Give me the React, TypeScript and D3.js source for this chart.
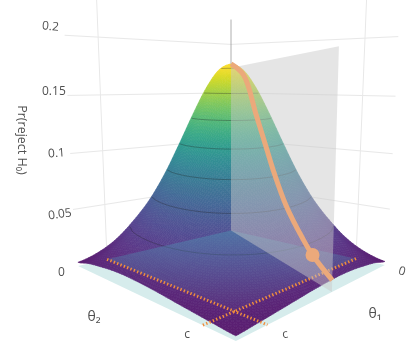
import React from 'react';
import * as d3 from 'd3';

// Pr(reject H0), rows/cols are theta at 0, .1, ... 1 of the axis range
const zRows = [
  [0.180, 0.1735, 0.155, 0.129, 0.100, 0.0718, 0.048, 0.0298, 0.0150, 0.0055, 0.0005],
  [0.1735, 0.173, 0.160, 0.138, 0.110, 0.0817, 0.0563, 0.0361, 0.0215, 0.0110, 0.0040],
  [0.155, 0.160, 0.153, 0.136, 0.112, 0.0862, 0.0615, 0.0408, 0.0251, 0.0135, 0.0060],
  [0.129, 0.138, 0.136, 0.125, 0.107, 0.0846, 0.0624, 0.0427, 0.0272, 0.0155, 0.0075],
  [0.100, 0.110, 0.112, 0.107, 0.0942, 0.0773, 0.0588, 0.0417, 0.0274, 0.0160, 0.0080],
  [0.0718, 0.0817, 0.0862, 0.0846, 0.0773, 0.0655, 0.0516, 0.0377, 0.0256, 0.0155, 0.0075],
  [0.048, 0.0563, 0.0615, 0.0624, 0.0588, 0.0516, 0.0419, 0.0318, 0.0223, 0.0140, 0.0065],
  [0.0298, 0.0361, 0.0408, 0.0427, 0.0417, 0.0377, 0.0318, 0.0248, 0.0180, 0.0115, 0.0050],
  [0.0150, 0.0215, 0.0251, 0.0272, 0.0274, 0.0256, 0.0223, 0.0180, 0.0130, 0.0080, 0.0035],
  [0.0055, 0.0110, 0.0135, 0.0155, 0.0160, 0.0155, 0.0140, 0.0115, 0.0080, 0.0050, 0.0020],
  [0.0005, 0.0040, 0.0060, 0.0075, 0.0080, 0.0075, 0.0065, 0.0050, 0.0035, 0.0020, 0.0006],
];

// slice along the plane: position along the ray and height
const sliceT = [0, 0.18, 0.338, 0.455, 0.539, 0.654, 0.795, 0.869, 1];
const sliceZ = [0.18, 0.168, 0.13, 0.10, 0.078, 0.052, 0.029, 0.019, 0.007];
const sliceSlope = 0.467; // theta1 / theta2 along the plane
const markerT = 0.869;
const markerZ = 0.019;

const zTicks = [0.05, 0.1, 0.15, 0.2];
const contourLevels = [0.025, 0.05, 0.075, 0.1, 0.125, 0.15, 0.175];
const cValue = 0.855;

const width = 415;
const height = 346;

// camera: plane homography of the floor, then a height term
const project = (a: number, b: number, z: number): [number, number] => {
  const w = 1 - 0.2737 * a - 0.2633 * b;
  const x0 = (231 - 174.4 * a + 52.6 * b) / w;
  const y0 = (228 - 37.1 * a - 35 * b) / w;
  const s = Math.pow(1 / w, 0.67);
  return [x0 + (x0 - 231) * z * 0.36, y0 - 850 * z * (1 + 0.4 * z) * s];
};

const path = (pts: [number, number][], close = false) =>
  d3.line()(pts) + (close ? 'Z' : '');

// catmull-rom resample of the typed grid so the mesh looks smooth
const cr = (p0: number, p1: number, p2: number, p3: number, t: number) =>
  0.5 * (2 * p1 + (p2 - p0) * t + (2 * p0 - 5 * p1 + 4 * p2 - p3) * t * t + (3 * p1 - p0 - 3 * p2 + p3) * t * t * t);
const nGrid = zRows.length - 1;
const at = (i: number, j: number) =>
  zRows[Math.max(0, Math.min(nGrid, i))][Math.max(0, Math.min(nGrid, j))];
const zAt = (a: number, b: number) => {
  const u = Math.min(a * nGrid, nGrid - 1e-6);
  const v = Math.min(b * nGrid, nGrid - 1e-6);
  const i = Math.floor(u);
  const j = Math.floor(v);
  const col = [-1, 0, 1, 2].map(d =>
    cr(at(i + d, j - 1), at(i + d, j), at(i + d, j + 1), at(i + d, j + 2), v - j));
  return cr(col[0], col[1], col[2], col[3], u - i);
};

const meshN = 80;
const meshStep = d3.range(meshN + 1).map(i => i / meshN);
const colorT = d3.scaleLinear().domain([-0.002, 0.175]).range([0, 1]).clamp(true);
// the surface is lit, so low values wash out towards a pale purple
const shade = (z: number) => {
  const t = colorT(z);
  return d3.interpolateRgb(d3.interpolateViridis(t), '#a070c0')(0.22 - 0.14 * t);
};

const cells: { d: string; fill: string }[] = [];
// back to front
for (const sum of d3.range(0, 2 * meshN - 1)) {
  for (let i = Math.max(0, sum - meshN + 1); i <= Math.min(sum, meshN - 1); i++) {
    const j = sum - i;
    const a0 = meshStep[i], a1 = meshStep[i + 1], b0 = meshStep[j], b1 = meshStep[j + 1];
    const pts = [
      project(a0, b0, zAt(a0, b0)),
      project(a1, b0, zAt(a1, b0)),
      project(a1, b1, zAt(a1, b1)),
      project(a0, b1, zAt(a0, b1)),
    ];
    cells.push({ d: path(pts, true), fill: shade(zAt((a0 + a1) / 2, (b0 + b1) / 2)) });
  }
}

// contour lines: break them where they run along the border of the domain
const cN = 160;
const cValues = new Array((cN + 1) * (cN + 1));
for (let j = 0; j <= cN; j++) for (let i = 0; i <= cN; i++) cValues[j * (cN + 1) + i] = zAt(i / cN, j / cN);
const contourGen = d3.contours().size([cN + 1, cN + 1]).smooth(true);
const contourPaths = contourLevels.map(level => {
  const geo = contourGen.contour(cValues, level);
  let d = '';
  geo.coordinates.forEach(poly => poly.forEach(ring => {
    let run: [number, number][] = [];
    const flush = () => { if (run.length > 1) d += path(run); run = []; };
    ring.forEach(([x, y]) => {
      if (x <= 0.6 || y <= 0.6 || x >= cN + 0.4 || y >= cN + 0.4) { flush(); return; }
      const a = (x - 0.5) / cN;
      const b = (y - 0.5) / cN;
      run.push(project(a, b, level));
    });
    flush();
  }));
  return d;
});

const wallLine = (z: number) => path([project(1.01, 0, z), project(0, 0, z), project(0, 1.01, z)]);
const vertLine = (a: number, b: number) => path([project(a, b, -0.002), project(a, b, 0.245)]);

const floorZ = -0.003;
const planeEnd = 1;
const planeTopBack = 0.176;
const planeTopFront = 0.19;

const tickStyle = { fontFamily: '"Open Sans", sans-serif', fontSize: 12, fill: '#505050' };

export default function App() {
  const slice = sliceT.map((t, i) => project(sliceSlope * t, t, sliceZ[i]));
  const sliceCurve = d3.line().curve(d3.curveCatmullRom)(slice) as string;
  const marker = project(sliceSlope * markerT, markerT, markerZ);
  const kiteBack = project(0, 0, floorZ);
  const kiteFront = project(cValue, cValue, floorZ);
  return (
    <svg width={width} height={height} style={{ position: 'absolute', left: 0, top: 0, background: '#fff', filter: 'blur(0.3px)' }}>
      <defs>
        <linearGradient id="kite" gradientUnits="userSpaceOnUse" x1={kiteBack[0]} y1={kiteBack[1]} x2={kiteFront[0]} y2={kiteFront[1]}>
          <stop offset="0" stopColor="#4f9cb8" stopOpacity={0.42} />
          <stop offset="1" stopColor="#4f9cb8" stopOpacity={0.06} />
        </linearGradient>
      </defs>
      {/* wall grid */}
      <g fill="none" stroke="#e8e8e8" strokeWidth={1}>
        {zTicks.map(z => <path key={z} d={wallLine(z)} />)}
        <path d={vertLine(cValue, 0)} />
        <path d={vertLine(0, cValue)} />
      </g>
      {/* floor */}
      <path d={path([project(0, 0, floorZ), project(1, 0, floorZ), project(1, 1, floorZ), project(0, 1, floorZ)], true)} fill="#d6ecec" />
      {/* surface */}
      <g>
        {cells.map((c, i) => <path key={i} d={c.d} fill={c.fill} stroke={c.fill} strokeWidth={0.6} />)}
      </g>
      <g fill="none" stroke="#222" strokeOpacity={0.42} strokeWidth={0.8}>
        {contourPaths.map((d, i) => <path key={i} d={d} />)}
      </g>
      {/* [0,c]x[0,c] tint */}
      <path
        d={path([project(0, 0, floorZ), project(cValue, 0, floorZ), project(cValue, cValue, floorZ), project(0, cValue, floorZ)], true)}
        fill="url(#kite)"
      />
      {/* c lines */}
      <g fill="none" stroke="#f28e3c" strokeWidth={3} strokeDasharray="1.4 2.2">
        <path d={path([project(cValue, 0, floorZ), project(cValue, 1, floorZ)])} />
        <path d={path([project(0, cValue, floorZ), project(1, cValue, floorZ)])} />
      </g>
      {/* slice plane */}
      <path
        d={path([
          project(0, 0, floorZ),
          project(0, 0, planeTopBack),
          project(sliceSlope * planeEnd, planeEnd, planeTopFront),
          project(sliceSlope * planeEnd, planeEnd, floorZ),
        ], true)}
        fill="#c8c8c8" fillOpacity={0.48}
      />
      <path d={path([project(0, 0, 0.18), project(0, 0, 0.225)])} stroke="#999" strokeWidth={0.8} fill="none" />
      <path d={sliceCurve} fill="none" stroke="#eba97b" strokeWidth={5} />
      <circle cx={marker[0]} cy={marker[1]} r={7} fill="#eba97b" />
      {/* labels */}
      <text x={42} y={30} {...tickStyle} transform="rotate(5 50 26)">0.2</text>
      <text x={42} y={95} {...tickStyle}>0.15</text>
      <text x={48} y={157} {...tickStyle} transform="rotate(-4 55 153)">0.1</text>
      <text x={48} y={218} {...tickStyle} transform="rotate(-8 59 214)">0.05</text>
      <text x={58} y={276} {...tickStyle}>0</text>
      <text x={187} y={338} {...tickStyle} textAnchor="middle">c</text>
      <text x={285} y={338} {...tickStyle} textAnchor="middle" transform="rotate(-8 285 334)">c</text>
      <text x={402} y={275} {...tickStyle} textAnchor="middle" transform="rotate(15 402 271)">0</text>
      <text x={94} y={321} {...tickStyle} fontSize={14} textAnchor="middle">θ₂</text>
      <text x={375} y={318} {...tickStyle} fontSize={14} textAnchor="middle">θ₁</text>
      <text x={0} y={0} {...tickStyle} fontSize={12.5} textAnchor="middle" transform="translate(18 140) rotate(90)">Pr(reject H₀)</text>
    </svg>
  );
}
